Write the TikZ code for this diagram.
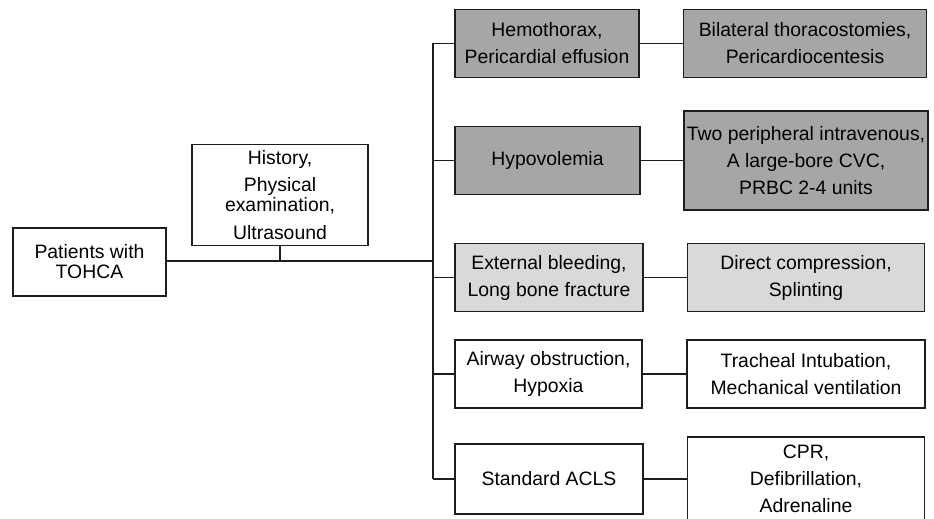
\documentclass[tikz,border=0pt]{standalone}
\usepackage{fontspec}
\setmainfont{Liberation Sans}
\definecolor{darkbox}{RGB}{166,166,166}
\definecolor{lightbox}{RGB}{217,217,217}
\definecolor{linec}{RGB}{30,30,30}
\begin{document}
\begin{tikzpicture}[x=1pt,y=-1pt,
  box/.style={draw=linec,line width=1.2pt,inner sep=0pt,align=center,
    font=\fontsize{19.4}{27}\selectfont,text=black},
  conn/.style={draw=linec,line width=1.2pt}]
\useasboundingbox (0,0) rectangle (934,519);
\node[box,minimum width=153pt,minimum height=68pt] (p) at (89.5,262) {Patients with\\[-7pt]TOHCA};
\node[box,minimum width=176pt,minimum height=101pt] (h) at (280,195)
  {History,\\Physical\\[-7pt]examination,\\[1pt]Ultrasound};
\node[box,fill=darkbox,minimum width=184pt,minimum height=68.5pt] (b1) at (547,43.5) {Hemothorax,\\Pericardial effusion};
\node[box,fill=darkbox,minimum width=243pt,minimum height=68.5pt] (c1) at (805,43.5) {Bilateral thoracostomies,\\Pericardiocentesis};
\node[box,fill=darkbox,minimum width=185pt,minimum height=67.5pt] (b2) at (547.5,160.5) {Hypovolemia};
\node[box,fill=darkbox,minimum width=244pt,minimum height=99pt] (c2) at (806,160.5) {Two peripheral intravenous,\\A large-bore CVC,\\PRBC 2-4 units};
\node[box,fill=lightbox,minimum width=188pt,minimum height=68.5pt] (b3) at (549,277.5) {External bleeding,\\Long bone fracture};
\node[box,fill=lightbox,minimum width=237pt,minimum height=68.5pt] (c3) at (806,277.5) {Direct compression,\\Splinting};
\node[box,minimum width=187pt,minimum height=68pt] (b4) at (548.5,374) {Airway obstruction,\\Hypoxia};
\node[box,minimum width=238pt,minimum height=68pt] (c4) at (806,374) {Tracheal Intubation,\\Mechanical ventilation};
\node[box,minimum width=188pt,minimum height=70pt] (b5) at (549,479) {Standard ACLS};
\node[box,minimum width=237pt,minimum height=84pt] (c5) at (806,479) {CPR,\\Defibrillation,\\Adrenaline};
\coordinate (j) at (433,261);
\draw[conn] (p.east |- j) -- (j);
\draw[conn] (h.south) -- (h.south |- j);
\draw[conn] (j |- b1.west) -- (j |- b5.west);
\foreach \i in {1,...,5}{
  \draw[conn] (b\i.west) -- (b\i.west -| j);
  \draw[conn] (b\i.east) -- (c\i.west |- b\i.east);
}
\end{tikzpicture}
\end{document}
